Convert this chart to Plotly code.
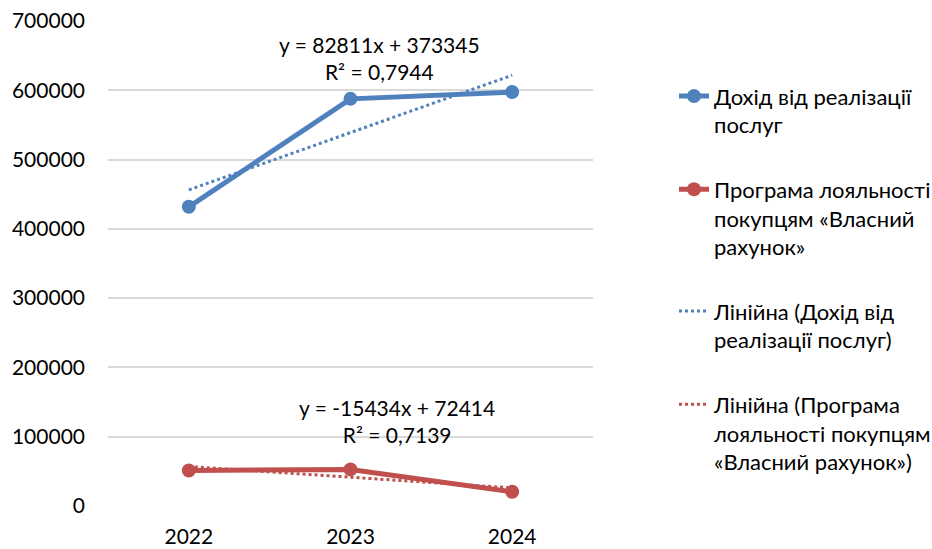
import numpy as np
import plotly.graph_objects as go

# Years on the category axis
years = ["2022", "2023", "2024"]

# Revenue from services and the "Власний рахунок" loyalty programme
revenue = [431833, 587614, 597455]
loyalty = [51339, 52828, 20471]

# Linear trend coefficients (x = 1, 2, 3) and their R²
rev_slope, rev_intercept, rev_r2 = 82811, 373345, "0,7944"
loy_slope, loy_intercept, loy_r2 = -15434, 72414, "0,7139"

names = [
    "Дохід від реалізації<br>послуг",
    "Програма лояльності<br>покупцям «Власний<br>рахунок»",
    "Лінійна (Дохід від<br>реалізації послуг)",
    "Лінійна (Програма<br>лояльності покупцям<br>«Власний рахунок»)",
]

BLUE = "#4F81BD"
RED = "#C0504D"
FONT = "Lato, 'Open Sans', sans-serif"

xi = np.arange(1, len(years) + 1)
rev_trend = rev_slope * xi + rev_intercept
loy_trend = loy_slope * xi + loy_intercept

fig = go.Figure()
fig.add_trace(go.Scatter(
    x=years, y=revenue, name=names[0], mode="lines+markers",
    line=dict(color=BLUE, width=5), marker=dict(size=14, color=BLUE),
    legendgroup="a",
))
fig.add_trace(go.Scatter(
    x=years, y=loyalty, name=names[1], mode="lines+markers",
    line=dict(color=RED, width=5), marker=dict(size=14, color=RED),
    legendgroup="b",
))
fig.add_trace(go.Scatter(
    x=years, y=rev_trend, name=names[2], mode="lines",
    line=dict(color=BLUE, width=3, dash="dot"), legendgroup="c",
))
fig.add_trace(go.Scatter(
    x=years, y=loy_trend, name=names[3], mode="lines",
    line=dict(color=RED, width=3, dash="dot"), legendgroup="d",
))

def eq_text(slope, intercept, r2):
    sign = "+" if intercept >= 0 else "-"
    return f"y = {slope}x {sign} {abs(intercept)}<br>R² = {r2}"

fig.add_annotation(
    x=0.559, y=646000, xref="paper", yref="y",
    text=eq_text(rev_slope, rev_intercept, rev_r2), showarrow=False,
    font=dict(size=21, color="#000000", family=FONT), align="center",
)
fig.add_annotation(
    x=0.596, y=122000, xref="paper", yref="y",
    text=eq_text(loy_slope, loy_intercept, loy_r2), showarrow=False,
    font=dict(size=21, color="#000000", family=FONT), align="center",
)

fig.update_layout(
    width=932, height=549,
    margin=dict(l=108, r=339, t=21, b=43, autoexpand=False),
    paper_bgcolor="white", plot_bgcolor="white",
    font=dict(family=FONT, size=21, color="#000000"),
    showlegend=True,
    legend=dict(
        x=1.167, y=0.888, xanchor="left", yanchor="top",
        traceorder="grouped", tracegroupgap=33, valign="top",
        font=dict(size=22, family=FONT, color="#000000"),
        bgcolor="rgba(0,0,0,0)",
    ),
    xaxis=dict(
        type="category", range=[-0.5, 2.5], showgrid=False, zeroline=False,
        showline=False, ticks="", ticklabelstandoff=16, automargin=False,
        tickfont=dict(size=21, family=FONT),
    ),
    yaxis=dict(
        range=[0, 700000], dtick=100000, tickformat="d",
        showgrid=True, gridcolor="#D9D9D9", gridwidth=2, zeroline=False,
        showline=False, ticks="", ticklabelstandoff=22, automargin=False,
        tickfont=dict(size=21, family=FONT),
    ),
)

fig.write_html("out.html")
